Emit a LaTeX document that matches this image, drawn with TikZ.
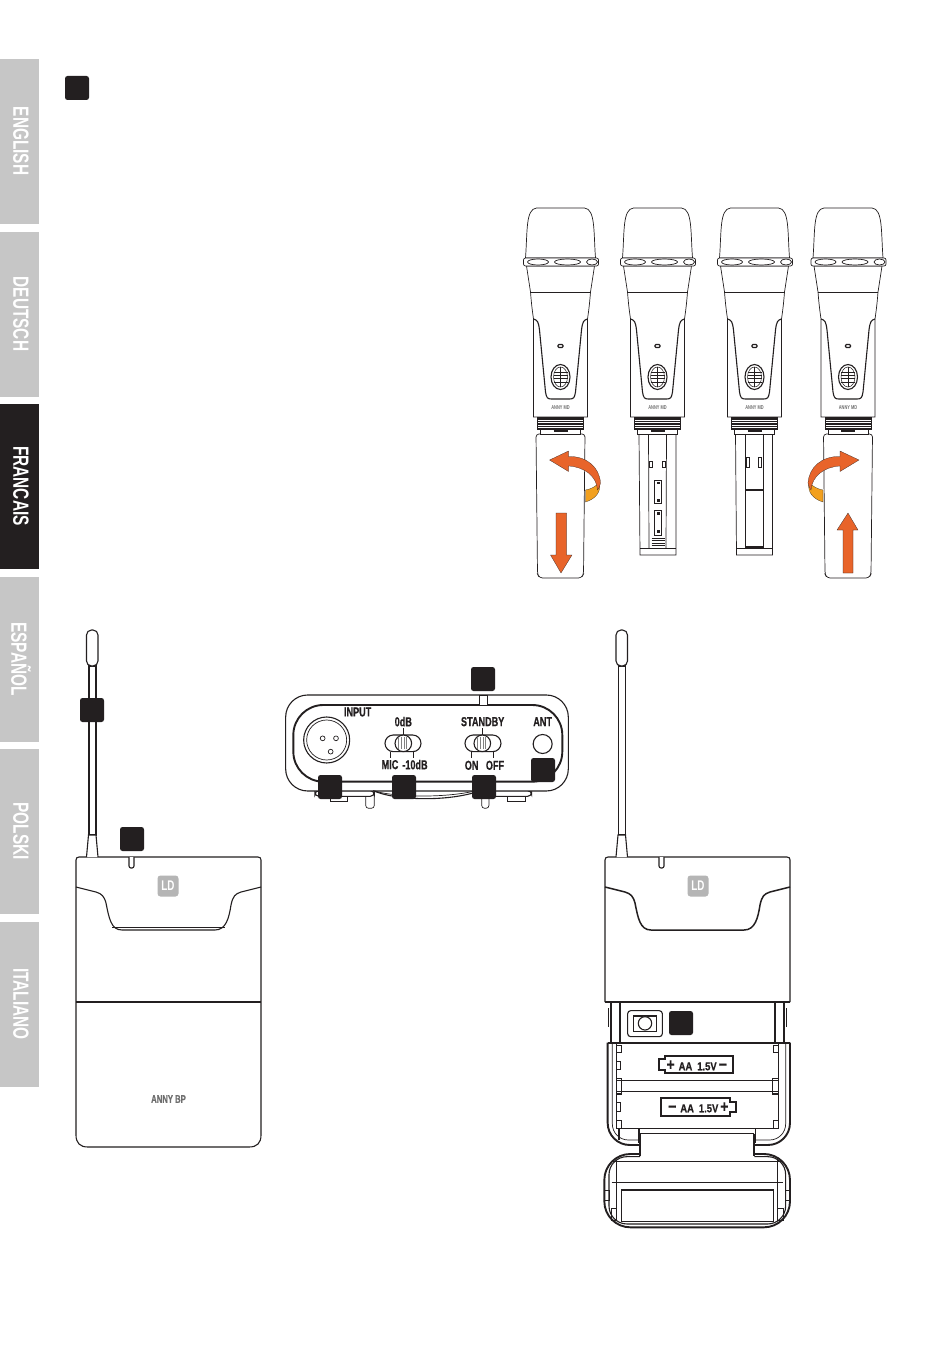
\documentclass[tikz,border=0pt]{standalone}
\usepackage{fontspec}
\setmainfont{Liberation Sans}
\newfontfamily\cond[FakeStretch=0.7]{Liberation Sans}
\newfontfamily\condheavy[FakeStretch=0.7,FakeBold=0.5]{Liberation Sans Bold}
\newfontfamily\batfont[FakeStretch=0.82,FakeBold=0.5]{Liberation Sans Bold}
\usetikzlibrary{shapes.geometric}
\definecolor{tabgray}{HTML}{C6C6C6}
\definecolor{tabblack}{HTML}{231F20}
\definecolor{ink}{HTML}{231F20}
\definecolor{logogray}{HTML}{B5B5B5}
\definecolor{txtgray}{HTML}{6E6E6E}
\definecolor{arrowor}{HTML}{E8642A}
\definecolor{arrowyl}{HTML}{F2A01E}
\tikzset{
  tabbox/.style={fill=tabgray,draw=none},
  tabtext/.style={text=white,rotate=-90,inner sep=0pt,font=\cond\bfseries\fontsize{22}{22}\selectfont},
  badge/.style={fill=ink,draw=none,rounded corners=2.5pt,minimum size=24pt,inner sep=0pt},
  thin line/.style={draw=ink,line width=.7pt},
  mid line/.style={draw=ink,line width=1.1pt},
  thick line/.style={draw=ink,line width=1.9pt},
  paneltxt/.style={inner sep=0pt,text=ink,font=\condheavy\fontsize{13}{13}\selectfont},
  battxt/.style={inner sep=0pt,text=ink,font=\batfont\fontsize{11.5}{12}\selectfont},
  logo/.style={fill=logogray,draw=none,rounded corners=3pt,minimum size=21pt,inner sep=0pt,text=white,font=\cond\bfseries\fontsize{14}{14}\selectfont},
  miclabel/.style={inner sep=0pt,text=txtgray,font=\cond\bfseries\fontsize{5.6}{6}\selectfont},
  orangearrow/.style={fill=arrowor,draw=ink,line width=.2pt},
  yellowband/.style={fill=arrowyl,draw=ink,line width=.2pt},
}
\newcommand{\micupper}[2]{%
\begin{scope}[shift={(#1,0)}]
  \path[thin line,fill=white] (-35,258) .. controls (-33,232) and (-35,209) .. (-24,208) -- (24,208) .. controls (35,209) and (33,232) .. (35,258) -- cycle;
  \path[thin line,fill=white] (-34,266) -- (-30,292) .. controls (-29,305) and (-28,312) .. (-27,319) -- (-27,417) -- (27,417) -- (27,319) .. controls (28,312) and (29,305) .. (30,292) -- (34,266) -- cycle;
  \path[thin line] (-30,292) -- (30,292);
  \path[thin line,fill=white,rounded corners=2pt] (-37,258) rectangle (38,266);
  \foreach \a/\b in {-33/-12,-6/20,26/37}{
    \path[thin line,fill=white] ({(\a+\b)/2},262) ellipse [x radius={(\b-\a)/2*1pt},y radius=3pt];
  }
  \path[mid line] (-27,319) .. controls (-23,320) and (-22,322) .. (-21,330) -- (-15,392) .. controls (-14,398) and (-13,399) .. (-9,399) -- (9,399) .. controls (13,399) and (14,398) .. (15,392) -- (21,330) .. controls (22,322) and (23,320) .. (27,319);
  \path[mid line,rounded corners=1pt] (-2.5,344.5) rectangle (2.5,347.5);
  \path[mid line] (0,377) ellipse [x radius=9.5pt,y radius=12.5pt];
  \path[draw=ink,line width=.5pt] (0,377) ellipse [x radius=7pt,y radius=10pt];
  \foreach \yy in {372,375.3,378.6,382}{\path[draw=ink,line width=.8pt] (-7,\yy) -- (7,\yy);}
  \path[draw=ink,line width=.5pt] (0,367) -- (0,387);
  \node[miclabel] (#2label) at (0,408) {ANNY MD};
  \path[thin line,fill=white] (-23,417) rectangle (23,429);
  \foreach \yy in {419,421.5,424,426.5,428.5}{\path[draw=ink,line width=1.1pt] (-23,\yy) -- (23,\yy);}
  \path[thin line,fill=white] (-20,429) rectangle (20,434);
  \path[draw=ink,line width=1.1pt] (-7,431) -- (7,431);
\end{scope}}
\newcommand{\micsleeve}[1]{%
\begin{scope}[shift={(#1,0)}]
  \path[thin line,fill=white,rounded corners=3pt] (-24.5,434) -- (24.5,434) -- (23,574) -- (21,578) -- (-21,578) -- (-23,574) -- cycle;
\end{scope}}
\newcommand{\curvedarrows}{%
  \path[yellowband] (25,490) .. controls (31,489) and (36,486) .. (39,482) .. controls (41,492) and (35,499) .. (25,502) -- cycle;
  \path[orangearrow] (-11,460) -- (8,451) -- (8,456.5) .. controls (26,456) and (39,467) .. (40,483) .. controls (39,487) and (38,489) .. (37,490) .. controls (36,476) and (24,467) .. (8,466) -- (8,471.5) -- cycle;
}
\begin{document}
\begin{tikzpicture}[x=1pt,y=-1pt]
\useasboundingbox (0,0) rectangle (950,1348);
\fill[white] (0,0) rectangle (950,1348);
\fill[tabbox] (0,59) rectangle (39,224);
\fill[tabbox] (0,232) rectangle (39,397);
\fill[tabblack] (0,404) rectangle (39,569);
\fill[tabbox] (0,577) rectangle (39,742);
\fill[tabbox] (0,749) rectangle (39,914);
\fill[tabbox] (0,922) rectangle (39,1087);
\node[tabtext] (tabEN) at (21,141) {ENGLISH};
\node[tabtext] (tabDE) at (21,314) {DEUTSCH};
\node[tabtext] (tabFR) at (21,486) {FRANCAIS};
\node[tabtext] (tabES) at (21,659) {ESPAÑOL};
\node[tabtext] (tabPL) at (21,831) {POLSKI};
\node[tabtext] (tabIT) at (21,1004) {ITALIANO};
\node[badge] (bTop) at (77,88) {};
% microphones
\micsleeve{560.5}
\micupper{560.5}{micA}
\begin{scope}[shift={(560.5,0)}]
  \curvedarrows
  \path[orangearrow] (-4.5,513) -- (6,513) -- (6,555) -- (11.5,555) -- (0.5,573) -- (-10,555) -- (-4.5,555) -- cycle;
\end{scope}
\begin{scope}[shift={(657.5,0)}]
  \path[thin line,fill=white] (-18.5,434) -- (-17.5,555) -- (18.5,555) -- (18.5,434) -- cycle;
  \path[thin line] (-17.5,548) -- (18.5,548);
  \path[thin line] (-9,434) -- (-8.5,548);
  \path[thin line] (9,434) -- (8.5,548);
  \path[thin line] (-8,461) rectangle (-5,467);
  \path[thin line] (5,461) rectangle (8,467);
  \path[thin line] (-3,480) rectangle (4,503);
  \path[thin line] (-3,510) rectangle (4,535);
  \fill[ink] (-1,481.5) rectangle (2,484);
  \fill[ink] (-1,499) rectangle (2,501.5);
  \fill[ink] (-1,512) rectangle (2,514.5);
  \fill[ink] (-1,530) rectangle (2,532.5);
  \foreach \yy in {538,540.5,543,545.5}{\path[draw=ink,line width=.9pt] (-6,\yy) -- (7,\yy);}
\end{scope}
\micupper{657.5}{micB}
\begin{scope}[shift={(754.5,0)}]
  \path[thin line,fill=white] (-19,434) -- (-18,555) -- (18,555) -- (18,434) -- cycle;
  \path[thin line] (-18,548) -- (18,548);
  \path[thin line] (-9,434) -- (-9,548);
  \path[thin line] (9,434) -- (9,548);
  \path[thin line] (-8,457) rectangle (-5,467);
  \path[thin line] (4,457) rectangle (7,467);
  \path[draw=ink,line width=1.1pt] (-9,490) -- (9,490);
  \path[draw=ink,line width=1.1pt] (-9,547) -- (9,547);
\end{scope}
\micupper{754.5}{micC}
\micsleeve{848}
\micupper{848}{micD}
\begin{scope}[shift={(848,0)},xscale=-1]
  \curvedarrows
\end{scope}
\begin{scope}[shift={(848,0)}]
  \path[orangearrow] (-5,573) -- (5,573) -- (5,530) -- (10,530) -- (0,513) -- (-11,530) -- (-5,530) -- cycle;
\end{scope}
% left transmitter
\path[mid line,fill=white] (76,1135) -- (76,860) .. controls (76,858) and (77,857) .. (79,857) -- (258,857) .. controls (260,857) and (261,858) .. (261,860) -- (261,1135) .. controls (261,1143) and (257,1147) .. (249,1147) -- (88,1147) .. controls (80,1147) and (76,1143) .. (76,1135) -- cycle;
\path[mid line] (76,887) -- (96,892) .. controls (102,894) and (104,896) .. (106,903) .. controls (109,918) and (111,930) .. (122,930) -- (215,930) .. controls (226,930) and (229,918) .. (231,905) .. controls (233,896) and (235,894) .. (241,892) -- (261,887);
\path[draw=ink,line width=.5pt] (112,927) -- (225,927);
\path[thick line] (76,1002) -- (261,1002);
\path[mid line,rounded corners=2pt,fill=white] (129,857) -- (129,868) -- (134,868) -- (134,857);
\node[logo] (logoL) at (168,886) {LD};
\node[inner sep=0pt,text=txtgray,font=\condheavy\fontsize{11}{11}\selectfont] (annyBP) at (168.5,1099) {ANNY BP};
\path[mid line,fill=white] (89,666) rectangle (96,835);
\path[mid line,fill=white,rounded corners=5pt] (86.5,666) -- (86.5,630) -- (98,630) -- (98,666) -- cycle;
\path[mid line,fill=white] (86.5,857) -- (88.5,835) -- (96,835) -- (98,857);
\node[badge] (bAnt) at (92,710) {};
\node[badge] (bLed) at (132,839) {};
% panel
\begin{scope}[shift={(275,660)},x=.3333pt,y=-.3333pt]
  \path[thin line,fill=white] (165,395) -- (165,425) -- (218,425) -- (218,395);
  \path[thin line,fill=white,rounded corners=3pt] (272,400) -- (272,445) -- (298,445) -- (298,400);
  \path[thin line,fill=white,rounded corners=3pt] (620,400) -- (620,445) -- (642,445) -- (642,400);
  \path[thin line,fill=white] (698,395) -- (698,425) -- (752,425) -- (752,395);
  \path[mid line,fill=white,rounded corners=4pt] (120,392) -- (120,409) -- (298,409) -- (298,392) -- cycle;
  \path[mid line,fill=white,rounded corners=4pt] (640,392) -- (640,409) -- (770,409) -- (770,392) -- cycle;
  \path[mid line,fill=white,rounded corners=22pt] (32,393) -- (32,105) -- (880,105) -- (880,393) -- cycle;
  \path[mid line] (295,392) .. controls (350,418) and (500,428) .. (605,396);
  \path[thin line] (300,393) .. controls (350,410) and (500,416) .. (600,393);
  \path[thick line,fill=white,rounded corners=30pt] (55,365) -- (55,135) -- (862,135) -- (862,365) -- cycle;
  \path[draw=ink,line width=.7pt,fill=white] (613,105) rectangle (637,135);
  \path[mid line] (155,240) circle (23pt);
  \path[thin line] (155,240) circle (20pt);
  \path[thin line] (143,235) circle (2.4pt);
  \path[thin line] (183,235) circle (2.4pt);
  \path[thin line] (167,275) circle (2.4pt);
  \node[paneltxt] (lblInput) at (248,156) {INPUT};
  \node[paneltxt] (lbl0dB) at (385,185) {0dB};
  \node[paneltxt] (lblMic) at (345,314) {MIC};
  \node[paneltxt] (lbl10dB) at (420,314) {-10dB};
  \path[mid line,rounded corners=8.3pt] (330,225) rectangle (438,275);
  \path[mid line,fill=white] (385,250) circle (8.3pt);
  \foreach \xx in {372,380,388,396}{\path[draw=gray,line width=1pt] (\xx,232) -- (\xx,268);}
  \path[mid line] (385,205) -- (385,225);
  \path[mid line] (347,275) -- (347,295);
  \path[mid line] (415,275) -- (415,295);
  \node[paneltxt] (lblStandby) at (623,185) {STANDBY};
  \node[paneltxt] (lblOn) at (590,316) {ON};
  \node[paneltxt] (lblOff) at (660,316) {OFF};
  \path[mid line,rounded corners=8.3pt] (570,225) rectangle (678,275);
  \path[mid line,fill=white] (622,250) circle (8.3pt);
  \foreach \xx in {609,617,625,633}{\path[draw=gray,line width=1pt] (\xx,232) -- (\xx,268);}
  \path[mid line] (622,205) -- (622,225);
  \path[mid line] (590,275) -- (590,295);
  \path[mid line] (655,275) -- (655,295);
  \node[paneltxt] (lblAnt) at (803,185) {ANT};
  \path[mid line] (803,252) circle (9.5pt);
\end{scope}
\node[badge] (bPanelTop) at (483,679) {};
\node[badge] (bInput) at (330,787) {};
\node[badge] (bPad) at (404,787) {};
\node[badge] (bStandby) at (484,787) {};
\node[badge] (bAntSock) at (543,770) {};
% right transmitter
\path[mid line] (605,1002) -- (605,860) .. controls (605,858) and (606,857) .. (608,857) -- (787,857) .. controls (789,857) and (790,858) .. (790,860) -- (790,1002);
\path[draw=ink,line width=1.5pt] (605,887) -- (625,892) .. controls (631,894) and (633,896) .. (635,903) .. controls (638,918) and (640,930) .. (651,930) -- (744,930) .. controls (755,930) and (758,918) .. (760,905) .. controls (762,896) and (764,894) .. (770,892) -- (790,887);
\path[thick line] (605,1002) -- (790,1002);
\path[mid line,rounded corners=2pt,fill=white] (659,857) -- (659,868) -- (664,868) -- (664,857);
\node[logo] (logoR) at (698,886) {LD};
\path[mid line,fill=white] (618.5,666) rectangle (625.5,835);
\path[mid line,fill=white,rounded corners=5pt] (616,666) -- (616,630) -- (627.5,630) -- (627.5,666) -- cycle;
\path[mid line,fill=white] (616,857) -- (618,835) -- (625.5,835) -- (627.5,857);
\begin{scope}[shift={(595,990)},x=.3333pt,y=-.3333pt]
  \path[mid line] (48,35) -- (48,158);
  \path[mid line] (75,35) -- (75,158);
  \path[mid line] (540,35) -- (540,158);
  \path[mid line] (567,35) -- (567,158);
  \path[mid line] (40,55) -- (40,110);
  \path[mid line] (574,55) -- (574,110);
  \path[mid line,fill=white,rounded corners=3pt] (98,62) rectangle (202,140);
  \path[mid line] (115,78) rectangle (185,125);
  \path[mid line,fill=white] (150,100) circle (6.7pt);
  \path[thick line] (38,158) -- (585,158);
  \path[thick line,rounded corners=22pt] (135,465) -- (38,465) -- (38,158);
  \path[thick line,rounded corners=22pt] (478,465) -- (585,465) -- (585,158);
  \path[draw=ink,line width=.7pt,rounded corners=16pt] (130,450) -- (52,450) -- (52,158);
  \path[draw=ink,line width=.7pt,rounded corners=16pt] (482,450) -- (572,450) -- (572,158);
  \path[mid line] (65,160) -- (65,415) -- (550,415) -- (550,160);
  \path[thin line] (65,165) rectangle (78,188);
  \path[thin line] (535,165) rectangle (550,188);
  \path[thin line] (65,215) rectangle (75,238);
  \path[thin line] (65,338) rectangle (75,365);
  \path[mid line] (65,272) -- (550,272);
  \path[mid line] (65,305) -- (550,305);
  \path[mid line] (65,265) rectangle (80,312);
  \path[mid line] (533,265) rectangle (550,312);
  \path[thin line] (65,390) rectangle (78,415);
  \path[thin line] (535,390) rectangle (550,415);
  \path[mid line] (72,415) -- (72,450);
  \path[mid line] (132,415) -- (132,458);
  \path[mid line] (482,415) -- (482,458);
  \path[mid line] (135,430) -- (478,430);
  \path[thick line] (135,432) -- (135,497);
  \path[thick line] (478,432) -- (478,497);
  \path[thick line,rounded corners=26pt] (135,492) -- (28,492) -- (28,712) -- (585,712) -- (585,492) -- (478,492);
  \path[mid line,rounded corners=18pt] (135,500) -- (42,500) -- (42,702) -- (572,702) -- (572,500) -- (478,500);
  \path[mid line] (50,515) -- (565,515);
  \path[thin line] (50,578) -- (565,578);
  \path[mid line] (80,600) rectangle (535,695);
  \path[thin line] (65,510) -- (65,690);
  \path[thin line] (548,510) -- (548,690);
  \path[thin line] (50,655) rectangle (65,690);
  \path[thin line] (548,655) rectangle (565,690);
  \path[thin line] (28,600) -- (42,600) -- (42,630) -- (28,630);
  \path[thin line] (585,600) -- (572,600) -- (572,630) -- (585,630);
  \path[thick line,fill=white] (210,198) -- (415,198) -- (415,250) -- (210,250) -- (210,240) -- (192,240) -- (192,208) -- (210,208) -- cycle;
  \node[battxt] (batTop) at (305,226) {{\fontsize{17}{17}\selectfont +}\hspace{4pt}AA\hspace{5pt}1.5V\hspace{2pt}{\fontsize{17}{17}\selectfont −}};
  \path[thick line,fill=white] (198,325) -- (405,325) -- (405,335) -- (422,335) -- (422,367) -- (405,367) -- (405,377) -- (198,377) -- cycle;
  \node[battxt] (batBot) at (310,352) {{\fontsize{17}{17}\selectfont −}\hspace{4pt}AA\hspace{5pt}1.5V\hspace{2pt}{\fontsize{17}{17}\selectfont +}};
\end{scope}
\node[badge] (bPower) at (681,1023) {};
\end{tikzpicture}
\end{document}
